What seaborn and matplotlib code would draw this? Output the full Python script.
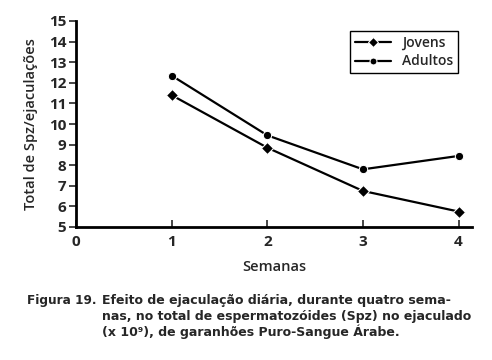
import pandas as pd
import matplotlib.pyplot as plt
import seaborn as sns

sns.set_style("ticks")
plt.rcParams['font.family'] = ['Open Sans', 'DejaVu Sans']

semanas = [1, 2, 3, 4]
jovens = [11.4, 8.85, 6.75, 5.75]
adultos = [12.35, 9.45, 7.8, 8.45]
grupos = ["Jovens", "Adultos"]

df = pd.DataFrame({
    "Semanas": semanas * 2,
    "Total": jovens + adultos,
    "Grupo": [grupos[0]] * 4 + [grupos[1]] * 4,
})

fig = plt.figure(figsize=(4.92, 3.6), dpi=100)
ax = fig.add_axes([76 / 492, 1 - 227 / 360, 396 / 492, 206 / 360])

sns.lineplot(data=df, x="Semanas", y="Total", hue="Grupo", style="Grupo",
             markers={"Jovens": "D", "Adultos": "o"}, dashes=False,
             palette={"Jovens": "black", "Adultos": "black"},
             markersize=6, linewidth=1.6, ax=ax)

ax.set_xlim(0, 4.14)
ax.set_ylim(5, 15)
ax.set_xticks([0, 1, 2, 3, 4])
ax.set_yticks(range(5, 16))
sns.despine(ax=ax)
for s in ["left", "bottom"]:
    ax.spines[s].set_linewidth(2)
    ax.spines[s].set_color("black")
ax.tick_params(axis="x", direction="in", length=5, width=1.2, labelsize=11, pad=6)
ax.tick_params(axis="y", direction="out", length=5, width=1.2, labelsize=11, pad=2)
for lab in ax.get_xticklabels() + ax.get_yticklabels():
    lab.set_fontweight("bold")
ax.set_xlabel("Semanas", fontsize=10.5, fontweight="semibold", labelpad=8)
ax.set_ylabel("Total de Spz/ejaculações", fontsize=10.5, fontweight="semibold", labelpad=8)

leg = ax.legend(loc="upper left", bbox_to_anchor=(0.675, 0.985),
                prop={"weight": "semibold", "size": 10},
                fancybox=False, edgecolor="black", framealpha=1,
                handlelength=2.6, borderpad=0.35, labelspacing=0.3)
leg.get_frame().set_linewidth(1.0)
for h in leg.legend_handles:
    h.set_markersize(5)

# caption below the chart
cap = dict(fontweight="bold", family=["DejaVu Sans"], va="baseline")
fig.text(27 / 492, 1 - 304 / 360, "Figura 19.", fontsize=8.7, **cap)
fig.text(102 / 492, 1 - 304 / 360, "Efeito de ejaculação diária, durante quatro sema-", fontsize=9.0, **cap)
fig.text(102 / 492, 1 - 320 / 360, "nas, no total de espermatozóides (Spz) no ejaculado", fontsize=9.0, **cap)
fig.text(102 / 492, 1 - 336 / 360, "(x 10⁹), de garanhões Puro-Sangue Árabe.", fontsize=9.0, **cap)

fig.savefig("out.png", dpi=100)
